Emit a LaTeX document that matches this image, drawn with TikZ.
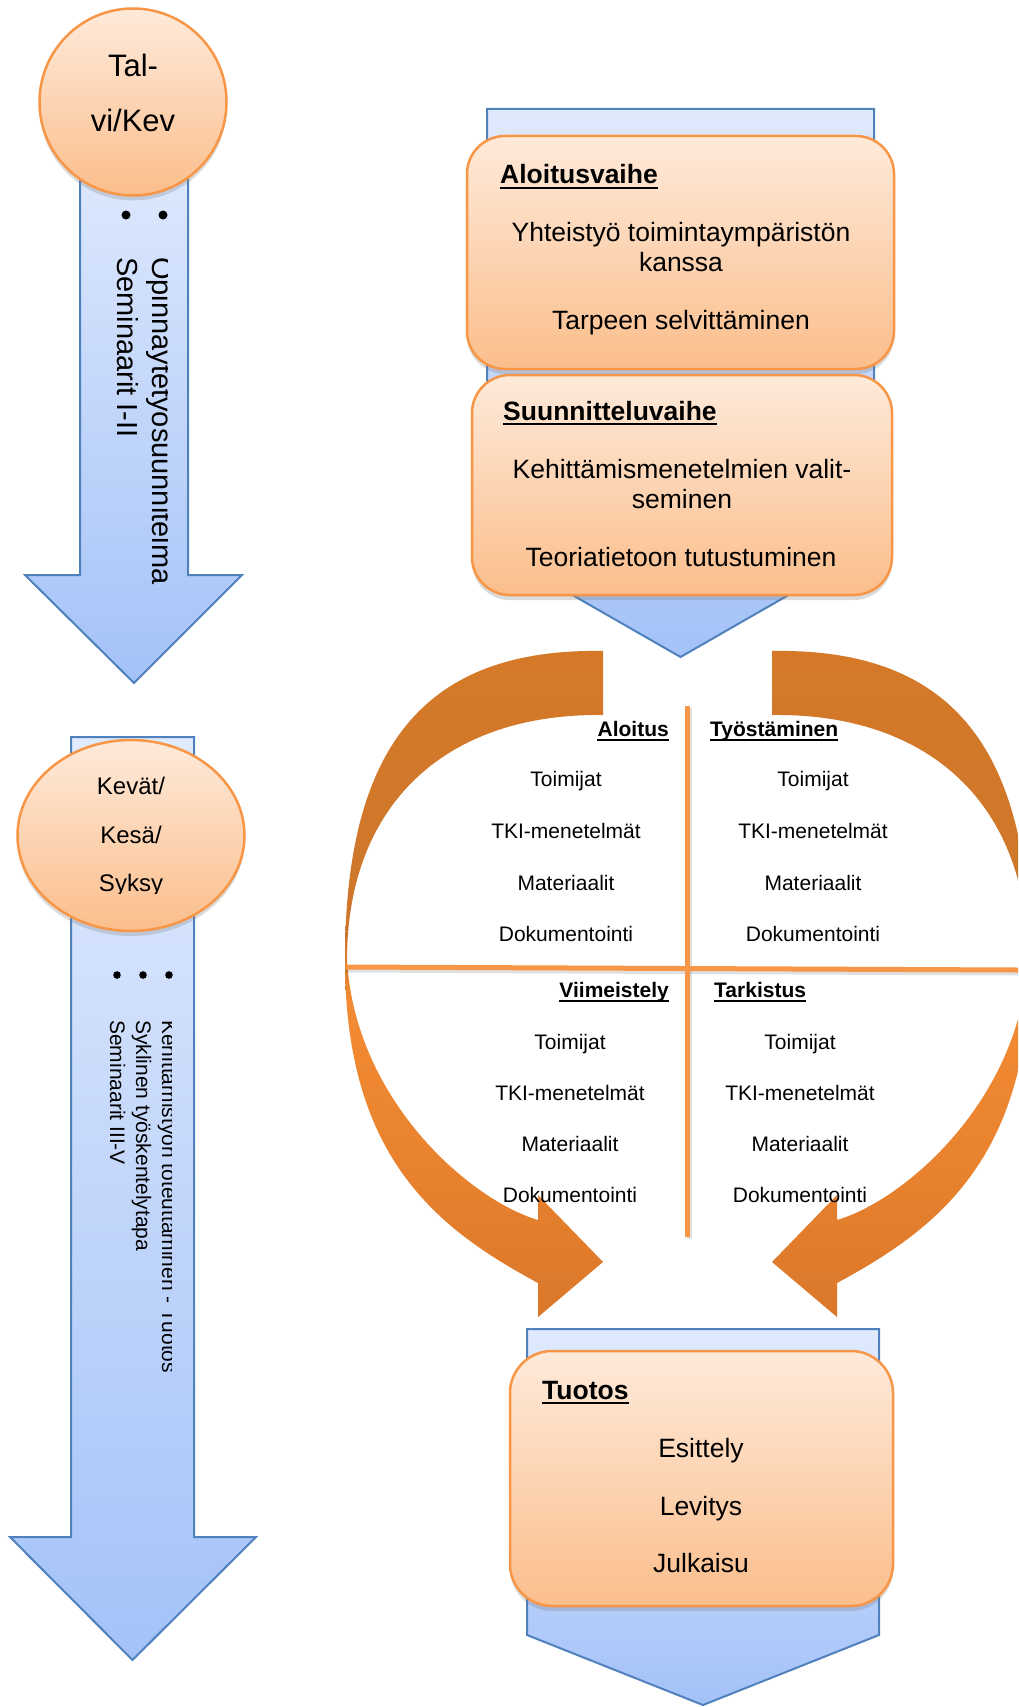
\documentclass[tikz,border=0pt]{standalone}
\usepackage{fontspec}
\setmainfont{Liberation Sans}
\usetikzlibrary{shapes.geometric,shadows,calc}
\definecolor{blueedge}{RGB}{79,129,189}
\definecolor{bluetop}{RGB}{224,234,253}
\definecolor{bluebot}{RGB}{164,194,248}
\definecolor{orEdge}{RGB}{247,150,70}
\definecolor{orTop}{RGB}{254,234,218}
\definecolor{orBot}{RGB}{251,190,140}
\definecolor{arT}{RGB}{213,121,40}
\definecolor{arU}{RGB}{205,118,44}
\definecolor{arM}{RGB}{242,139,51}
\definecolor{arL}{RGB}{234,131,46}
\definecolor{arB}{RGB}{218,119,42}
\definecolor{divcol}{RGB}{247,150,70}
\pgfdeclareverticalshading{orarrow}{100bp}{color(0bp)=(arB); color(25bp)=(arB); color(37.5bp)=(arL); color(48.8bp)=(arM); color(53.3bp)=(arU); color(75bp)=(arT); color(100bp)=(arT)}
\begin{document}
\begin{tikzpicture}[x=1pt,y=-1pt,
 bluearrow/.style={draw=blueedge,line width=2pt,top color=bluetop,bottom color=bluebot,line join=miter},
 orbox/.style={draw=orEdge,line width=2.5pt,top color=orTop,bottom color=orBot,rounded corners=38pt,inner sep=0pt,drop shadow={opacity=0.28,shadow xshift=0pt,shadow yshift=-5pt}},
 orell/.style={draw=orEdge,line width=2.5pt,top color=orTop,bottom color=orBot,inner sep=0pt,drop shadow={opacity=0.28,shadow xshift=0pt,shadow yshift=-5pt}},
 btxt/.style={inner sep=0pt,anchor=base,font=\fontsize{26.5}{30}\selectfont},
 bhead/.style={inner sep=0pt,anchor=base west,font=\fontsize{26.5}{30}\selectfont\bfseries},
 qtxt/.style={inner sep=0pt,anchor=base,font=\fontsize{21}{25}\selectfont},
 qhead/.style={inner sep=0pt,font=\fontsize{21}{25}\selectfont\bfseries},
 uline/.style={line width=2pt},
 bigline/.style={line width=2.5pt},
 divline/.style={draw=divcol,line width=5pt},
 divshadow/.style={draw=black,opacity=0.12,line width=5pt},
 rotA/.style={inner sep=0pt,rotate=-90,anchor=base west,font=\fontsize{29}{35}\selectfont},
 rotB/.style={inner sep=0pt,rotate=-90,anchor=base west,font=\fontsize{21}{25}\selectfont},
 etxtA/.style={inner sep=0pt,anchor=base,font=\fontsize{31}{36}\selectfont},
 etxtB/.style={inner sep=0pt,anchor=base,font=\fontsize{24}{28}\selectfont},
 dot/.style={fill=black}
]
\useasboundingbox (0,0) rectangle (1018,1707);
\fill[white] (0,0) rectangle (1018,1707);

% ---------- top right: blue arrow with two phase boxes ----------
\draw[bluearrow] (487,109) -- (874,109) -- (874,546) -- (680.5,657) -- (487,546) -- cycle;
\node[orbox,minimum width=427pt,minimum height=233pt] (box1) at (680.5,252.5) {};
\node[orbox,minimum width=420pt,minimum height=220pt] (box2) at (682,485) {};

\node[bhead] (h1) at (500,184) {Aloitusvaihe};
\draw[bigline] ($(h1.base west)+(0,4)$) -- ($(h1.base east)+(0,4)$);
\node[btxt] (b1a) at (681,241) {Yhteistyö toimintaympäristön};
\node[btxt] (b1b) at (681,271) {kanssa};
\node[btxt] (b1c) at (681,329) {Tarpeen selvittäminen};

\node[bhead] (h2) at (503,420) {Suunnitteluvaihe};
\draw[bigline] ($(h2.base west)+(0,4)$) -- ($(h2.base east)+(0,4)$);
\node[btxt] (b2a) at (682,478) {Kehittämismenetelmien valit-};
\node[btxt] (b2b) at (682,508) {seminen};
\node[btxt] (b2c) at (681,566) {Teoriatietoon tutustuminen};

% ---------- cycle: two curved orange arrows ----------
\begin{scope}
\clip (0,0) rectangle (1018,1707);
\path[shading=orarrow] (603,651) .. controls (430,648) and (345,740) .. (345,960)
  .. controls (345,1160) and (440,1230) .. (538,1283) -- (538,1317) -- (603,1262)
  -- (538,1195) -- (538,1220) .. controls (470,1200) and (355,1100) .. (347,960)
  .. controls (347,805) and (445,713) .. (603,715) -- cycle;
\begin{scope}[xshift=1375pt,xscale=-1]
\path[shading=orarrow] (603,651) .. controls (430,648) and (345,740) .. (345,960)
  .. controls (345,1160) and (440,1230) .. (538,1283) -- (538,1317) -- (603,1262)
  -- (538,1195) -- (538,1220) .. controls (470,1200) and (355,1100) .. (347,960)
  .. controls (347,805) and (445,713) .. (603,715) -- cycle;
\end{scope}
\coordinate (vt) at (687,706);
\coordinate (vb) at (687,1237);
\coordinate (hl) at (346,967);
\coordinate (hr) at (1018,970);
\draw[divshadow] ($(hl)+(0,3)$) -- ($(hr)+(0,3)$);
\draw[divshadow] ($(vt)+(2,2)$) -- ($(vb)+(2,2)$);
\draw[divline] (hl) -- (hr);
\draw[divline] (vt) -- (vb);
\end{scope}

% quadrant headers
\node[qhead,anchor=base east] (qa) at (669,736) {Aloitus};
\draw[uline] ($(qa.base west)+(0,3.5)$) -- ($(qa.base east)+(0,3.5)$);
\node[qhead,anchor=base west] (qb) at (710,736) {Työstäminen};
\draw[uline] ($(qb.base west)+(0,3.5)$) -- ($(qb.base east)+(0,3.5)$);
\node[qhead,anchor=base east] (qc) at (669,997) {Viimeistely};
\draw[uline] ($(qc.base west)+(0,3.5)$) -- ($(qc.base east)+(0,3.5)$);
\node[qhead,anchor=base west] (qd) at (714,997) {Tarkistus};
\draw[uline] ($(qd.base west)+(0,3.5)$) -- ($(qd.base east)+(0,3.5)$);

% quadrant items
\node[qtxt] (a1) at (566,786) {Toimijat};
\node[qtxt] (a2) at (566,838) {TKI-menetelmät};
\node[qtxt] (a3) at (566,890) {Materiaalit};
\node[qtxt] (a4) at (566,941) {Dokumentointi};
\node[qtxt] (t1) at (813,786) {Toimijat};
\node[qtxt] (t2) at (813,838) {TKI-menetelmät};
\node[qtxt] (t3) at (813,890) {Materiaalit};
\node[qtxt] (t4) at (813,941) {Dokumentointi};
\node[qtxt] (v1) at (570,1049) {Toimijat};
\node[qtxt] (v2) at (570,1100) {TKI-menetelmät};
\node[qtxt] (v3) at (570,1151) {Materiaalit};
\node[qtxt] (v4) at (570,1202) {Dokumentointi};
\node[qtxt] (k1) at (800,1049) {Toimijat};
\node[qtxt] (k2) at (800,1100) {TKI-menetelmät};
\node[qtxt] (k3) at (800,1151) {Materiaalit};
\node[qtxt] (k4) at (800,1202) {Dokumentointi};

% ---------- bottom right: Tuotos ----------
\draw[bluearrow] (527,1329) -- (879,1329) -- (879,1635) -- (703,1705) -- (527,1635) -- cycle;
\node[orbox,rounded corners=42pt,minimum width=383pt,minimum height=255pt] (box3) at (701.5,1478.5) {};
\node[bhead] (h3) at (542,1399) {Tuotos};
\draw[bigline] ($(h3.base west)+(0,4)$) -- ($(h3.base east)+(0,4)$);
\node[btxt] (p1) at (701,1457) {Esittely};
\node[btxt] (p2) at (701,1515) {Levitys};
\node[btxt] (p3) at (701,1572) {Julkaisu};

% ---------- left arrow 1 ----------
\draw[bluearrow] (80,140) -- (188,140) -- (188,575) -- (242,575) -- (134,683) -- (25,575) -- (80,575) -- cycle;
\fill[dot] (126,215) circle[radius=4.5pt];
\fill[dot] (163,215) circle[radius=4.5pt];
\begin{scope}
\clip (75,230) rectangle (167.5,620);
\node[rotA] (l1a) at (152,257) {Opinnäytetyösuunnitelma};
\end{scope}
\node[rotA] (l1b) at (117,257) {Seminaarit I-II};
\node[orell,circle,minimum size=187pt] (e1) at (133,102) {};
\node[etxtA] (e1a) at (133,77) {Tal-};
\node[etxtA] (e1b) at (133,132) {vi/Kev};

% ---------- left arrow 2 ----------
\draw[bluearrow] (71,737) -- (194,737) -- (194,1537) -- (256,1537) -- (132.5,1660) -- (10,1537) -- (71,1537) -- cycle;
\node[orell,ellipse,minimum width=227pt,minimum height=191pt] (e2) at (131,835.5) {};
\node[etxtB] (e2a) at (131,794.5) {Kevät/};
\node[etxtB] (e2b) at (131,843.5) {Kesä/};
\begin{scope}
\clip (20,860) rectangle (240,893);
\node[etxtB] (e2c) at (131,891.5) {Syksy};
\end{scope}
\fill[dot] (117,975) circle[radius=3.8pt];
\fill[dot] (143,975) circle[radius=3.8pt];
\fill[dot] (169,975) circle[radius=3.8pt];
\begin{scope}
\clip (75,1000) rectangle (171,1450);
\node[rotB] (l2a) at (162,1020) {Kehittämistyön toteuttaminen - Tuotos};
\end{scope}
\node[rotB] (l2b) at (136,1020) {Syklinen työskentelytapa};
\node[rotB] (l2c) at (110,1020) {Seminaarit III-V};
\end{tikzpicture}
\end{document}
